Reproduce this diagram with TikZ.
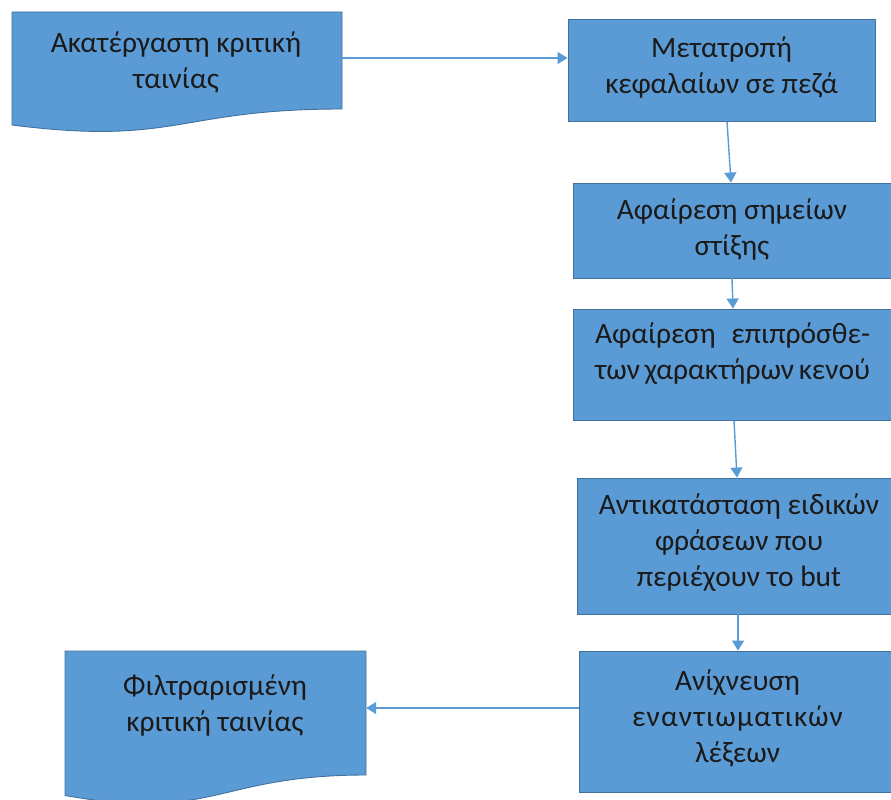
\documentclass[tikz,border=0pt]{standalone}
\usepackage{fontspec}
\setmainfont{Carlito}
\usetikzlibrary{arrows.meta,calc}
\definecolor{boxfill}{HTML}{5B9BD5}
\definecolor{boxline}{HTML}{41719C}
\definecolor{flowline}{HTML}{5B9BD5}
\definecolor{ink}{HTML}{1A1A1A}
\begin{document}
\begin{tikzpicture}[x=1pt,y=-1pt,
  procbox/.style={draw=boxline,fill=boxfill,line width=0.9pt,inner sep=0pt},
  hidden/.style={inner sep=0pt},
  txt/.style={text=ink,align=center,font=\fontsize{29.5}{36}\selectfont,inner sep=0pt},
  docshape/.style={draw=boxline,fill=boxfill,line width=0.9pt},
  flow/.style={draw=flowline,line width=1.4pt,-{Triangle[length=10pt,width=12pt]}}]
\useasboundingbox (0,0) rectangle (891,800);
\begin{scope}
\clip (0,0) rectangle (891,800);

% input document (wavy bottom)
\path[docshape] (12,12) -- (342,12) -- (342,109)
  .. controls (177,109) and (177,146) .. (12,125) -- cycle;
\node[hidden,minimum width=330pt,minimum height=92pt] (doc1) at (177,58) {};
\node[txt] (t1) at (176,62) {Ακατέργαστη κριτική\\ταινίας};

% output document (wavy bottom)
\path[docshape] (65,651) -- (366,651) -- (366,775)
  .. controls (215.5,775) and (215.5,822) .. (65,795.5) -- cycle;
\node[hidden,minimum width=301pt,minimum height=114pt] (doc2) at (215.5,708) {};
\node[txt] (t7) at (215,705) {Φιλτραρισμένη\\κριτική ταινίας};

% processing steps
\node[procbox,minimum width=307pt,minimum height=102pt] (b2) at (721.5,70) {};
\node[txt] at (721.5,67) {Μετατροπή\\κεφαλαίων σε πεζά};

\node[procbox,minimum width=319pt,minimum height=95pt] (b3) at (732.5,230.5) {};
\node[txt] at (732,229) {Αφαίρεση σημείων\\στίξης};

\node[procbox,minimum width=319pt,minimum height=111pt] (b4) at (732.5,364.5) {};
\node[txt] at (732.5,354) {\hbox to 275pt{Αφαίρεση\hfil επιπρόσθε-}\\\hbox to 275pt{των\hfil χαρακτήρων\hfil κενού}};

\node[procbox,minimum width=323pt,minimum height=136pt] (b5) at (738.5,546) {};
\node[txt] at (739,543) {Αντικατάσταση ειδικών\\φράσεων που\\περιέχουν το but};

\node[procbox,minimum width=317pt,minimum height=141pt] (b6) at (737.5,721.5) {};
\node[txt] at (737.5,718) {Ανίχνευση\\{\addfontfeature{LetterSpace=4}εναντιωματικών}\\λέξεων};

% connectors
\draw[flow] (doc1.east) -- (doc1.east -| b2.west);
\draw[flow] ($(b2.south)+(5.5,0)$) -- ($(b3.north)+(-1.5,0)$);
\draw[flow] ($(b3.south)+(-0.5,0)$) -- ($(b4.north)+(0.5,0)$);
\draw[flow] ($(b4.south)+(1.5,0)$) -- ($(b5.north)+(-1.5,0)$);
\draw[flow] ($(b5.south)+(-0.5,0)$) -- ($(b6.north)+(0.5,0)$);
\draw[flow] (b6.west |- doc2.east) -- (doc2.east);
\end{scope}
\end{tikzpicture}
\end{document}
